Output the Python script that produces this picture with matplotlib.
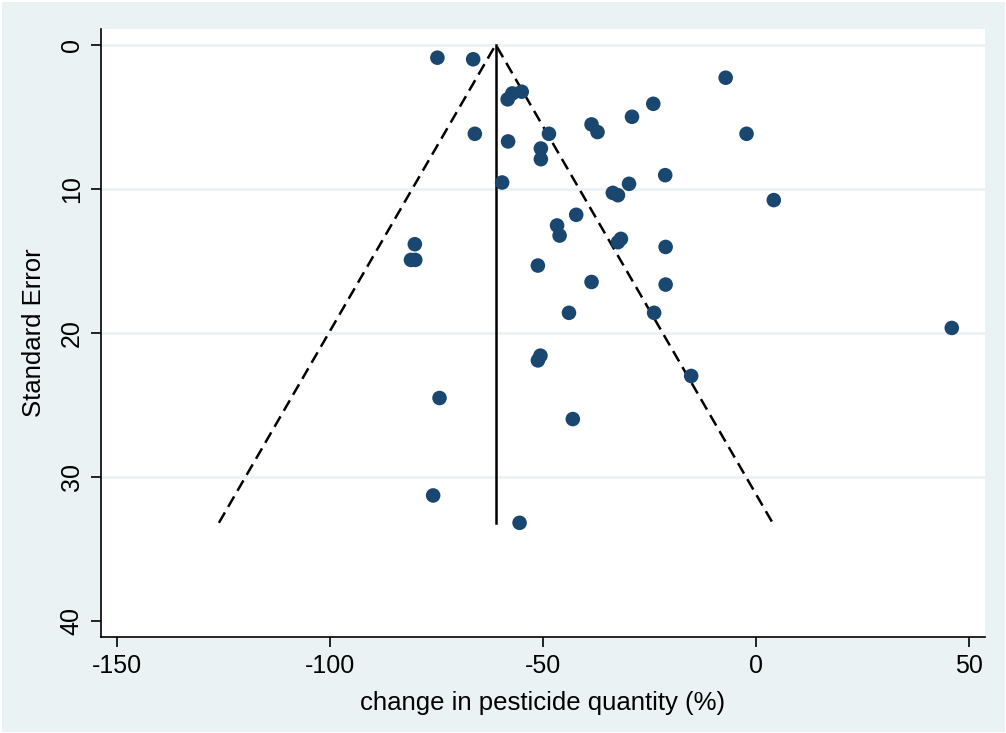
import matplotlib
matplotlib.use("Agg")
import matplotlib.pyplot as plt
import numpy as np

# Effect sizes (change in pesticide quantity, %) and standard errors
effect = [-74.8, -66.4, -57.2, -58.3, -55.0, -66.0, -58.2, -48.6, -50.5, -50.5,
          -59.6, -38.6, -37.2, -29.1, -24.1, -21.3, -29.8, -33.6, -32.4, -7.1,
          -2.2, 4.2, 46.0, -21.2, -21.2, -23.9, -42.2, -46.7, -46.1, -31.7,
          -32.4, -51.2, -38.6, -43.9, -50.6, -51.2, -80.1, -81.0, -80.0, -74.3,
          -43.0, -15.2, -75.8, -55.5]
std_err = [0.90, 1.01, 3.38, 3.79, 3.26, 6.18, 6.71, 6.18, 7.20, 7.94,
           9.56, 5.53, 6.06, 5.00, 4.10, 9.05, 9.65, 10.28, 10.44, 2.29,
           6.18, 10.78, 19.65, 14.03, 16.64, 18.60, 11.80, 12.54, 13.24, 13.47,
           13.70, 15.32, 16.46, 18.60, 21.57, 21.90, 13.84, 14.93, 14.93, 24.51,
           25.97, 22.98, 31.27, 33.17]
pooled = -61.1
x_ticks = [-150, -100, -50, 0, 50]
y_ticks = [0, 10, 20, 30, 40]

bg = "#EAF2F3"
navy = "#1A476F"

plt.rcParams['font.family'] = ['Liberation Sans', 'DejaVu Sans']

fig = plt.figure(figsize=(10.06, 7.33), dpi=100)
fig.patch.set_facecolor(bg)
fig.patch.set_edgecolor("white")
fig.patch.set_linewidth(2)
ax = fig.add_axes([101/1006, 1 - 637/733, (985-101)/1006, (637-29)/733])
ax.set_facecolor("white")

# grid lines
for g in y_ticks[:-1]:
    ax.axhline(g, color=bg, lw=2.0, zorder=0)

semax = max(std_err)
ax.plot([pooled - 1.96 * semax, pooled, pooled + 1.96 * semax], [semax, 0, semax],
        color="black", lw=1.8, linestyle=(0, (4.8, 2.6)), zorder=2)
ax.plot([pooled, pooled], [0, semax], color="black", lw=1.8, zorder=2)

ax.scatter(effect, std_err, s=110, color=navy, edgecolors="none", zorder=3)

ax.set_xlim(-153.8, 53.8)
ax.set_ylim(41.09, -1.09)
ax.set_xticks(x_ticks)
ax.set_yticks(y_ticks)
ax.set_xticklabels([str(t) for t in x_ticks], fontsize=18)
ax.set_yticklabels([str(t) for t in y_ticks], fontsize=18, rotation=90, va="center")
ax.tick_params(axis="both", direction="out", length=7.5, width=1.2, color="black", pad=5)

for side in ["top", "right"]:
    ax.spines[side].set_visible(False)
for side in ["left", "bottom"]:
    ax.spines[side].set_color("black")
    ax.spines[side].set_linewidth(1.2)

ax.set_xlabel("change in pesticide quantity (%)", fontsize=18.5, labelpad=9)
ax.set_ylabel("Standard Error", fontsize=18.5, labelpad=10)

fig.savefig("out.png", dpi=100, facecolor=fig.get_facecolor(), edgecolor=fig.get_edgecolor())
